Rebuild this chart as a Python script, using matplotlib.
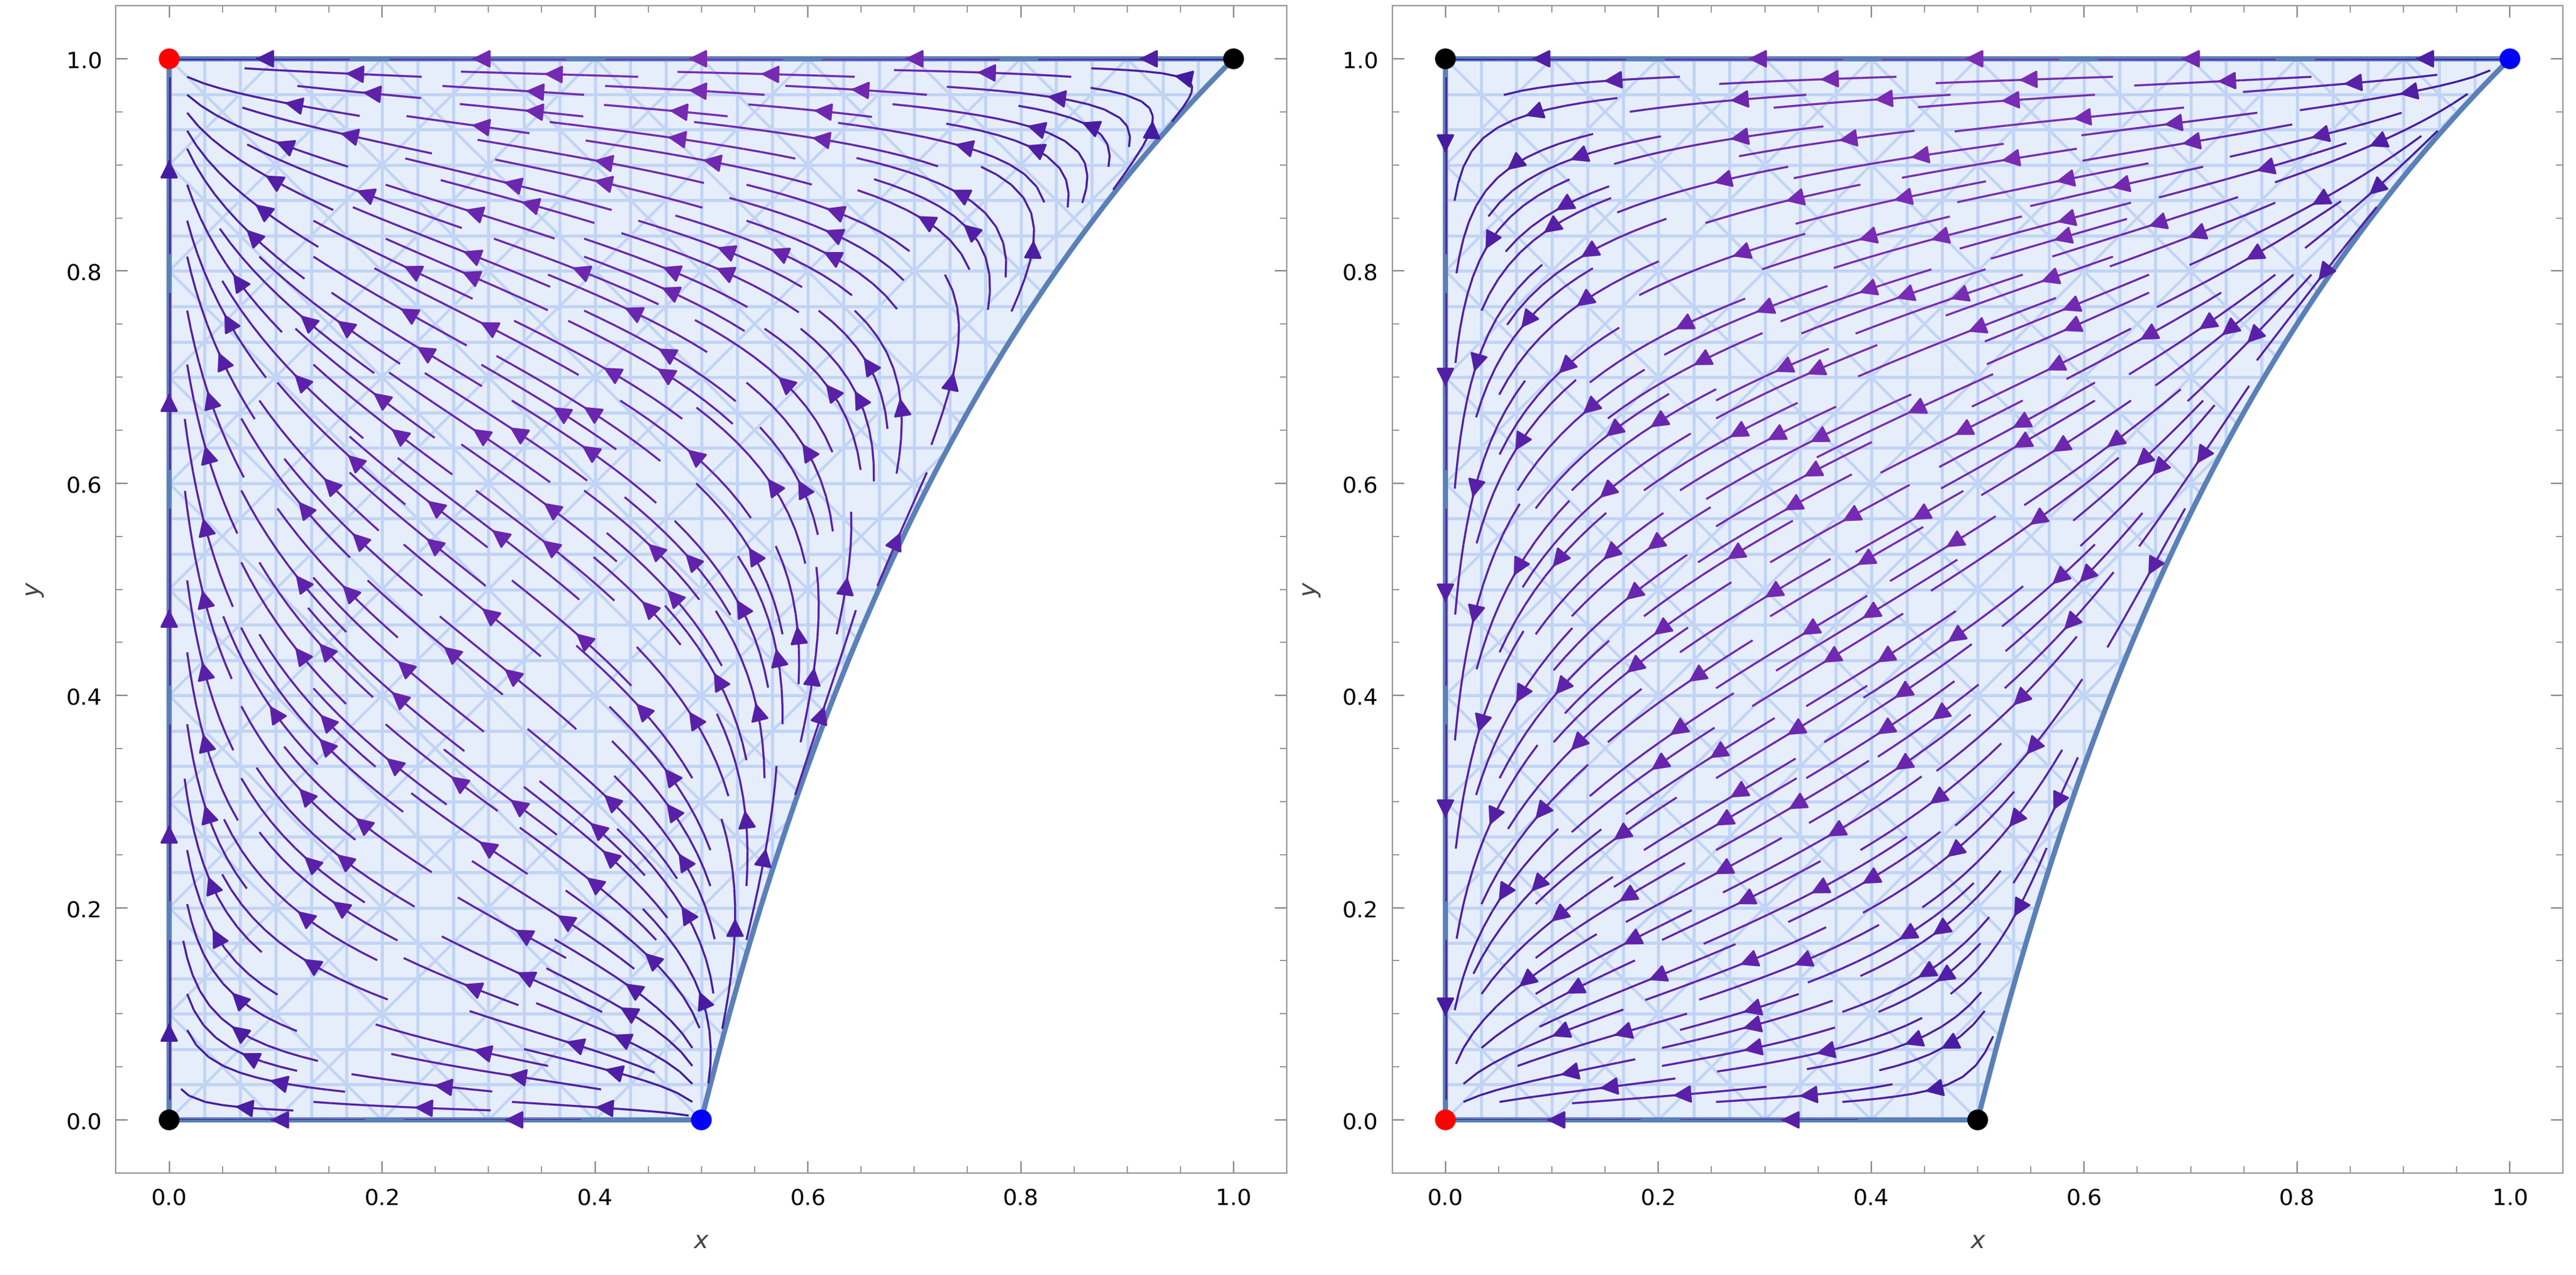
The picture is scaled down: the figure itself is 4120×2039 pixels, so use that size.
import numpy as np
import matplotlib.pyplot as plt
from matplotlib.patches import Polygon
from matplotlib.colors import LinearSegmentedColormap

# fixed points per panel: (x, y, colour)
left_points_x = [0.0, 1.0, 0.0, 0.5]
left_points_y = [1.0, 1.0, 0.0, 0.0]
left_points_c = ["#ff0000", "#000000", "#000000", "#0000ff"]
right_points_x = [0.0, 1.0, 0.0, 0.5]
right_points_y = [1.0, 1.0, 0.0, 0.0]
right_points_c = ["#000000", "#0000ff", "#ff0000", "#000000"]
ticks = [0.0, 0.2, 0.4, 0.6, 0.8, 1.0]


def xmax(y):
    return 1.0 / (2.0 - y)


def field(X, Y, kind):
    S = X / xmax(Y)
    if kind == "left":
        ds = -2.2 * S * (1 - S)
        dy = Y * (1 - Y)
    else:
        ds = -2.2 * S * (1 - S)
        dy = -Y * (1 - Y)
    dx = ds * xmax(Y) + S * dy / (2 - Y) ** 2
    mask = (S > 1.0) | (S < 0)
    dx = np.where(mask, np.nan, dx)
    dy = np.where(mask, np.nan, dy)
    return dx, dy


yy = np.linspace(0, 1, 200)
region = np.vstack([[0, 0], [0, 1], np.column_stack([xmax(yy[::-1]), yy[::-1]])])

cmap = LinearSegmentedColormap.from_list("pur", ["#3b1a9e", "#5a20a8", "#7a2cb4"])

fig, axes = plt.subplots(1, 2, figsize=(20.6, 10.2), dpi=200)
panels = [("left", left_points_x, left_points_y, left_points_c),
          ("right", right_points_x, right_points_y, right_points_c)]

gx = np.linspace(0, 1, 300)
gy = np.linspace(0, 1, 300)
GX, GY = np.meshgrid(gx, gy)

for ax, (kind, px, py, pc) in zip(axes, panels):
    poly = Polygon(region, closed=True, facecolor="#e6eefb", edgecolor="none", zorder=1)
    ax.add_patch(poly)
    # mesh pattern inside region
    for v in np.arange(0, 1.01, 1 / 30):
        for seg in ([[v, v], [0, 1]], [[0, 1], [v, v]]):
            ln, = ax.plot(*seg, color="#c2d4f5", lw=1.8, zorder=1.5)
            ln.set_clip_path(poly)
    for c in np.arange(-1, 1.01, 1 / 10):
        for seg in ([[c, c + 1], [0, 1]], [[c, c + 1], [1, 0]]):
            ln, = ax.plot(*seg, color="#c2d4f5", lw=1.6, zorder=1.5)
            ln.set_clip_path(poly)
    ax.add_patch(Polygon(region, closed=True, facecolor="none",
                         edgecolor="#5b80b8", lw=3, zorder=3))

    U, V = field(GX, GY, kind)
    speed = np.hypot(U, V)
    sp = ax.streamplot(GX, GY, U, V, density=2.0, color=speed, cmap=cmap,
                       linewidth=1.2, arrowsize=2.2, arrowstyle="-|>",
                       maxlength=0.35, zorder=4)
    sp.lines.set_clip_path(poly)

    ax.scatter(px, py, c=pc, s=120, zorder=6, clip_on=False)

    ax.set_xlim(-0.05, 1.05)
    ax.set_ylim(-0.05, 1.05)
    ax.set_xticks(ticks)
    ax.set_yticks(ticks)
    ax.set_xticklabels([f"{t:.1f}" for t in ticks])
    ax.set_yticklabels([f"{t:.1f}" for t in ticks])
    ax.set_xticks(np.arange(-0.05, 1.06, 0.05), minor=True)
    ax.set_yticks(np.arange(-0.05, 1.06, 0.05), minor=True)
    ax.tick_params(which="both", direction="in", top=True, right=True,
                   color="#888888", labelsize=13, pad=8)
    ax.tick_params(which="major", length=7)
    ax.tick_params(which="minor", length=4)
    for s in ax.spines.values():
        s.set_color("#999999")
    ax.set_xlabel("x", fontstyle="italic", fontsize=14, color="#444444", labelpad=12)
    ax.set_ylabel("y", fontstyle="italic", fontsize=14, color="#444444", labelpad=12)

plt.subplots_adjust(left=0.045, right=0.995, bottom=0.08, top=0.995, wspace=0.09)
fig.savefig("out.png", dpi=200)
